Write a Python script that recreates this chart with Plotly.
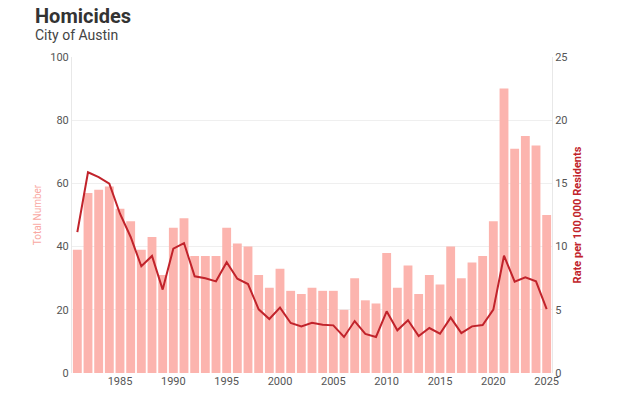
import plotly.graph_objects as go

years = list(range(1981, 2026))
homicides = [39, 57, 58, 59, 52, 48, 39, 43, 31, 46,
             49, 37, 37, 37, 46, 41, 40, 31, 27, 33,
             26, 25, 27, 26, 26, 20, 30, 23, 22, 38,
             27, 34, 25, 31, 28, 40, 30, 35, 37, 48,
             90, 71, 75, 72, 50]
rate = [11.15, 15.88, 15.5, 14.98, 12.6, 10.76, 8.44, 9.26, 6.6, 9.84,
        10.28, 7.65, 7.49, 7.25, 8.76, 7.46, 7.04, 5.04, 4.27, 5.17,
        3.96, 3.69, 3.98, 3.82, 3.77, 2.85, 4.11, 3.09, 2.85, 4.88,
        3.38, 4.17, 2.93, 3.56, 3.11, 4.38, 3.16, 3.69, 3.8, 5.01,
        9.28, 7.23, 7.57, 7.25, 5.06]

BAR = "#fcb4ae"
LINE = "#c1232b"
FONT = "Roboto"

fig = go.Figure()
fig.add_trace(go.Bar(x=years, y=homicides, marker=dict(color=BAR, line=dict(width=0)),
                     name="Total Number", yaxis="y"))
fig.add_trace(go.Scatter(x=years, y=rate, mode="lines", line=dict(color=LINE, width=2),
                         name="Rate", yaxis="y2"))

fig.update_layout(
    width=620, height=399,
    margin=dict(l=64, r=76, t=49, b=34),
    paper_bgcolor="white", plot_bgcolor="white",
    showlegend=False,
    bargap=0.17,
    font=dict(family=FONT, size=11, color="#555"),
    title=dict(text="<b>Homicides</b>", x=27/620, xanchor="left", xref="container",
               y=1 - 8/399, yanchor="middle", yref="container",
               font=dict(family=FONT, size=20, color="#333")),
    annotations=[dict(text="City of Austin", xref="paper", yref="paper",
                      x=(25 - 64) / 480, y=1 + 22 / 316, xanchor="left", yanchor="middle",
                      showarrow=False, font=dict(family=FONT, size=14, color="#444"))],
    xaxis=dict(range=[1980.5, 2025.5], tickvals=[1985, 1990, 1995, 2000, 2005, 2010, 2015, 2020, 2025],
               showgrid=False, zeroline=False, showline=False, ticks="",
               tickfont=dict(size=11, color="#555")),
    yaxis=dict(range=[0, 100], tickvals=[0, 20, 40, 60, 80, 100], showgrid=True, gridcolor="#efefef",
               zeroline=False, showline=True, linecolor="#e8e8e8", ticks="",
               title=dict(text="Total Number", font=dict(size=10, color="#f9a8a2"), standoff=6),
               tickfont=dict(size=11, color="#555")),
    yaxis2=dict(range=[0, 25], tickvals=[0, 5, 10, 15, 20, 25], overlaying="y", side="right",
                showgrid=False, zeroline=False, showline=True, linecolor="#e8e8e8", ticks="",
                title=dict(text="<b>Rate per 100,000 Residents</b>", font=dict(size=11, color=LINE), standoff=6),
                tickfont=dict(size=11, color="#555")),
)

fig.write_html("out.html")
